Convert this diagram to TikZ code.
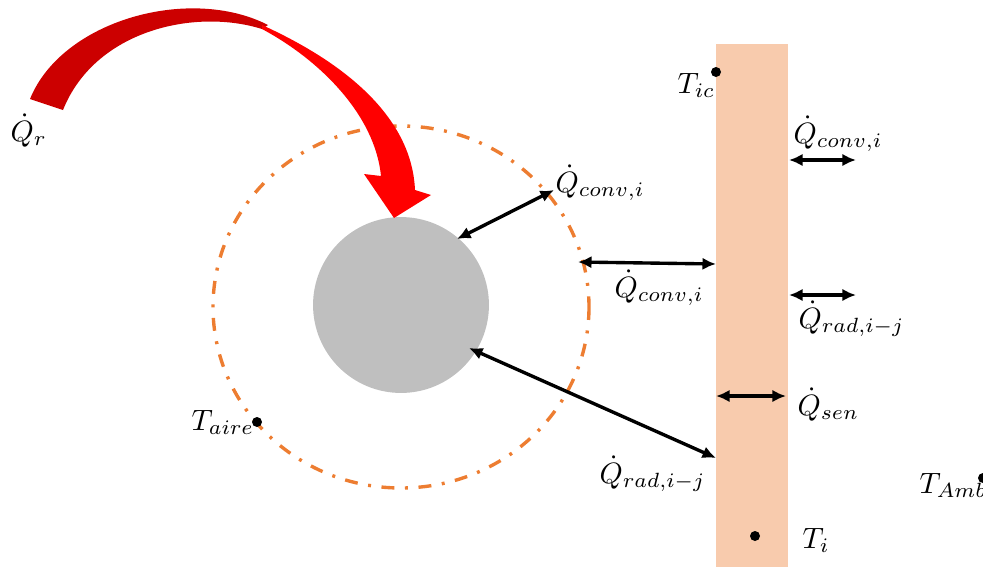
\documentclass[tikz,border=0pt]{standalone}
\usetikzlibrary{arrows.meta}
\definecolor{wallc}{RGB}{248,203,173}
\definecolor{grayc}{RGB}{191,191,191}
\definecolor{orangec}{RGB}{237,125,49}
\definecolor{darkredc}{RGB}{204,0,0}
\definecolor{brightredc}{RGB}{255,0,0}
\begin{document}
\begin{tikzpicture}[x=0.34pt,y=-0.34pt,
  dbl/.style={{Latex[length=4.6pt,width=4.2pt]}-{Latex[length=4.6pt,width=4.2pt]}, line width=1.15pt},
  lbl/.style={anchor=base west, inner sep=0pt},
  dotc/.style={circle, fill=black, inner sep=0pt, minimum size=3.4pt}]
\useasboundingbox (0,0) rectangle (983,567);
% wall
\fill[wallc] (716,44) rectangle (788,567);
% air boundary
\draw[orangec, line width=1.15pt, dash pattern=on 4.4pt off 3.6pt on 1pt off 3.6pt]
  (401,307) ellipse [x radius=188, y radius=181];
% object
\node[circle, fill=grayc, minimum size=59.8pt, inner sep=0pt] (obj) at (401,305) {};
% radiation arrow
\fill[darkredc] (30,99) .. controls (62,20) and (190,-15) .. (268,25) -- (262,29)
  .. controls (195,8) and (95,30) .. (63,110) -- cycle;
\fill[brightredc] (262,25) .. controls (350,65) and (412,120) .. (415,190) -- (431,195)
  -- (394,218) -- (364,174) -- (381,176) .. controls (375,115) and (320,60) .. (262,29) -- cycle;
% coordinates
\coordinate (a1s) at (457,239); \coordinate (a1e) at (554,190);
\coordinate (a2s) at (578,262); \coordinate (a2e) at (716,264);
\coordinate (a3s) at (789,160); \coordinate (a3e) at (856,160);
\coordinate (a4s) at (789,295); \coordinate (a4e) at (856,295);
\coordinate (a5s) at (716,396); \coordinate (a5e) at (786,396);
\coordinate (a6s) at (469,348); \coordinate (a6e) at (716,458);
\draw[dbl] (a1s) -- (a1e);
\draw[dbl] (a2s) -- (a2e);
\draw[dbl] (a3s) -- (a3e);
\draw[dbl] (a4s) -- (a4e);
\draw[dbl] (a5s) -- (a5e);
\draw[dbl] (a6s) -- (a6e);
% dots
\node[dotc] (dic) at (716,72) {};
\node[dotc] (daire) at (257,422) {};
\node[dotc] (di) at (755,536) {};
\node[dotc] (damb) at (983,478) {};
% labels
\node[lbl] (lqr) at (10,141) {$\dot{Q}_r$};
\node[lbl] (lc1) at (555,192) {$\dot{Q}_{conv,i}$};
\node[lbl] (lc2) at (614,297) {$\dot{Q}_{conv,i}$};
\node[lbl] (lc3) at (793,143) {$\dot{Q}_{conv,i}$};
\node[lbl] (lr1) at (798,328) {$\dot{Q}_{rad,i-j}$};
\node[lbl] (lsen) at (797,415) {$\dot{Q}_{sen}$};
\node[lbl] (lr2) at (599,483) {$\dot{Q}_{rad,i-j}$};
\node[lbl] (lamb) at (919,493) {$T_{Amb}$};
\node[lbl] (lti) at (802,548) {$T_i$};
\node[lbl] (ltic) at (677,93) {$T_{ic}$};
\node[lbl] (ltaire) at (191,430) {$T_{aire}$};
\end{tikzpicture}
\end{document}
